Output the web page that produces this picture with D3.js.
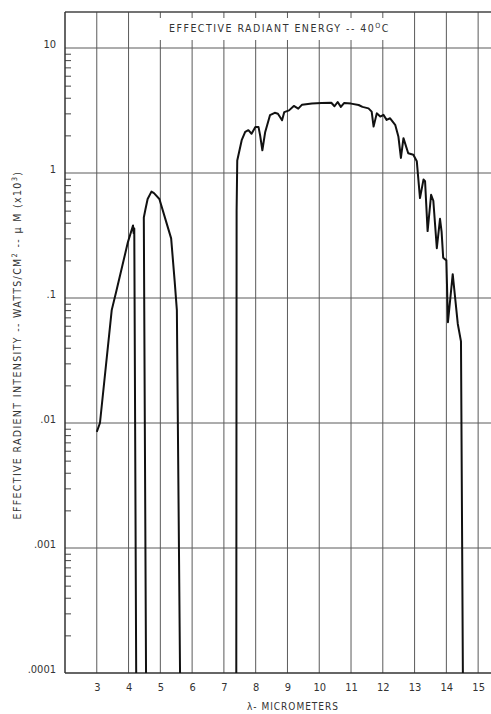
<!DOCTYPE html>
<html>
<head>
<meta charset="utf-8">
<script src="https://cdn.jsdelivr.net/npm/d3@7"></script>
<style>
  body { margin: 0; background: #fff; }
  svg { display: block; }
  text { font-family: "DejaVu Sans Condensed", "Liberation Sans Narrow", "DejaVu Sans", sans-serif; fill: #333; }
</style>
</head>
<body>
<div id="chart"></div>
<script>
// wavelength ticks (micrometers) and decade ticks of intensity
var xTicks = [3, 4, 5, 6, 7, 8, 9, 10, 11, 12, 13, 14, 15];
var yDecades = [0.0001, 0.001, 0.01, 0.1, 1, 10];
var yLabels = ['.0001', '.001', '.01', '.1', '1', '10'];

// three emission bands: [wavelength, intensity]; 0.0001 = drops to the floor
var band1 = [[3.0, 0.0085], [3.1, 0.010], [3.47, 0.08], [3.62, 0.115], [3.98, 0.28],
  [4.14, 0.38], [4.16, 0.33], [4.18, 0.36], [4.24, 0.0001]];
var band2 = [[4.55, 0.0001], [4.48, 0.44], [4.53, 0.51], [4.6, 0.62], [4.72, 0.71],
  [4.8, 0.69], [4.97, 0.62], [5.18, 0.41], [5.34, 0.30], [5.45, 0.137],
  [5.52, 0.08], [5.62, 0.0001]];
var band3 = [[7.39, 0.0001], [7.4, 0.5], [7.42, 1.26], [7.56, 1.83], [7.67, 2.13],
  [7.77, 2.2], [7.87, 2.06], [7.99, 2.33], [8.09, 2.33], [8.14, 2.0], [8.21, 1.52],
  [8.3, 2.13], [8.45, 2.9], [8.6, 3.03], [8.7, 2.98], [8.83, 2.64], [8.9, 3.07],
  [9.05, 3.17], [9.2, 3.44], [9.34, 3.27], [9.46, 3.52], [9.77, 3.59], [10.07, 3.63],
  [10.38, 3.65], [10.48, 3.42], [10.58, 3.7], [10.68, 3.38], [10.78, 3.63],
  [11.0, 3.59], [11.24, 3.5], [11.36, 3.38], [11.55, 3.29], [11.65, 3.1],
  [11.71, 2.35], [11.81, 3.0], [11.92, 2.83], [12.02, 2.92], [12.12, 2.66],
  [12.23, 2.74], [12.39, 2.43], [12.49, 1.96], [12.57, 1.32], [12.65, 1.9],
  [12.8, 1.44], [12.96, 1.4], [13.07, 1.24], [13.17, 0.63], [13.28, 0.886],
  [13.33, 0.86], [13.41, 0.343], [13.52, 0.67], [13.59, 0.6], [13.7, 0.25],
  [13.8, 0.43], [13.85, 0.34], [13.9, 0.21], [14.0, 0.2], [14.05, 0.064],
  [14.2, 0.155], [14.36, 0.062], [14.46, 0.045], [14.52, 0.0001]];

var width = 491, height = 714;
var plotTop = 12, plotBottom = 673, plotLeft = 65;

var x = d3.scaleLinear().domain([2, 15.5]).range([plotLeft, plotLeft + 13.5 * 31.78]);
var y = d3.scaleLog().domain([0.0001, 10]).range([plotBottom, 48]);

var svg = d3.select('#chart').append('svg')
  .attr('width', width)
  .attr('height', height);

// grid
var grid = svg.append('g').attr('stroke', '#5a5a5a').attr('stroke-width', 1);

grid.selectAll('line.v')
  .data(xTicks)
  .enter().append('line')
    .attr('x1', function(d) { return x(d); })
    .attr('x2', function(d) { return x(d); })
    .attr('y1', plotTop)
    .attr('y2', plotBottom);

grid.selectAll('line.h')
  .data(yDecades.slice(1))
  .enter().append('line')
    .attr('x1', plotLeft)
    .attr('x2', width)
    .attr('y1', function(d) { return y(d); })
    .attr('y2', function(d) { return y(d); });

// top border
svg.append('line')
  .attr('x1', plotLeft).attr('x2', width)
  .attr('y1', plotTop).attr('y2', plotTop)
  .attr('stroke', '#444').attr('stroke-width', 1.3);

// title sits on a clear band that breaks the grid
svg.append('rect')
  .attr('x', x(4.85))
  .attr('y', 18)
  .attr('width', x(12.15) - x(4.85))
  .attr('height', 22)
  .attr('fill', '#fff');

var title = svg.append('text')
  .attr('x', x(8.75))
  .attr('y', 32)
  .attr('text-anchor', 'middle')
  .style('font-size', '10.5px')
  .style('letter-spacing', '1.5px');
title.append('tspan').text('EFFECTIVE RADIANT ENERGY -- 40');
title.append('tspan').attr('dy', -4).style('font-size', '7px').text('O');
title.append('tspan').attr('dy', 4).text('C');

// minor ticks on the left axis
var minor = [];
yDecades.slice(0, -1).forEach(function(d) {
  for (var k = 2; k <= 9; k++) minor.push(d * k);
});

svg.append('g')
  .attr('transform', 'translate(' + plotLeft + ',0)')
  .call(d3.axisRight(y).tickValues(minor).tickSize(6).tickFormat(''))
  .call(function(g) {
    g.select('.domain').remove();
    g.selectAll('line').attr('stroke', '#444');
  });

// left axis with decade labels
svg.append('g')
  .attr('transform', 'translate(' + plotLeft + ',0)')
  .call(d3.axisLeft(y).tickValues(yDecades).tickSize(0).tickPadding(9)
    .tickFormat(function(d, i) { return yLabels[i]; }))
  .call(function(g) {
    g.select('.domain').remove();
    g.selectAll('text')
      .attr('dy', '-0.05em')
      .style('font-size', '11px')
      .style('font-family', '"DejaVu Sans Condensed", sans-serif')
      .attr('fill', '#333');
  });

svg.append('line')
  .attr('x1', plotLeft).attr('x2', plotLeft)
  .attr('y1', plotTop).attr('y2', plotBottom)
  .attr('stroke', '#333').attr('stroke-width', 1.5);

// bottom axis
svg.append('g')
  .attr('transform', 'translate(0,' + plotBottom + ')')
  .call(d3.axisBottom(x).tickValues(xTicks).tickSize(0).tickPadding(10)
    .tickFormat(d3.format('d')))
  .call(function(g) {
    g.select('.domain').remove();
    g.selectAll('text')
      .style('font-size', '11px')
      .style('font-family', '"DejaVu Sans Condensed", sans-serif')
      .attr('fill', '#333');
  });

svg.append('line')
  .attr('x1', plotLeft).attr('x2', width)
  .attr('y1', plotBottom).attr('y2', plotBottom)
  .attr('stroke', '#333').attr('stroke-width', 1.5);

svg.append('text')
  .attr('x', 293)
  .attr('y', 710)
  .attr('text-anchor', 'middle')
  .style('font-size', '10px')
  .style('letter-spacing', '1px')
  .text('\u03bb- MICROMETERS');

// y axis title
var ylab = svg.append('text')
  .attr('transform', 'translate(21,' + 345 + ') rotate(-90)')
  .attr('text-anchor', 'middle')
  .style('font-size', '10.5px')
  .style('letter-spacing', '1.35px');
ylab.append('tspan').text('EFFECTIVE RADIENT INTENSITY -- WATTS/CM');
ylab.append('tspan').attr('dy', -4).style('font-size', '7.5px').text('2');
ylab.append('tspan').attr('dy', 4).text(' -- \u03bc M (x10');
ylab.append('tspan').attr('dy', -4).style('font-size', '7.5px').text('3');
ylab.append('tspan').attr('dy', 4).text(')');

// spectrum
var line = d3.line()
  .x(function(d) { return x(d[0]); })
  .y(function(d) { return y(d[1]); });

svg.append('g')
  .selectAll('path')
  .data([band1, band2, band3])
  .enter().append('path')
    .attr('d', line)
    .attr('fill', 'none')
    .attr('stroke', '#111')
    .attr('stroke-width', 2)
    .attr('stroke-linejoin', 'round');
</script>
</body>
</html>
